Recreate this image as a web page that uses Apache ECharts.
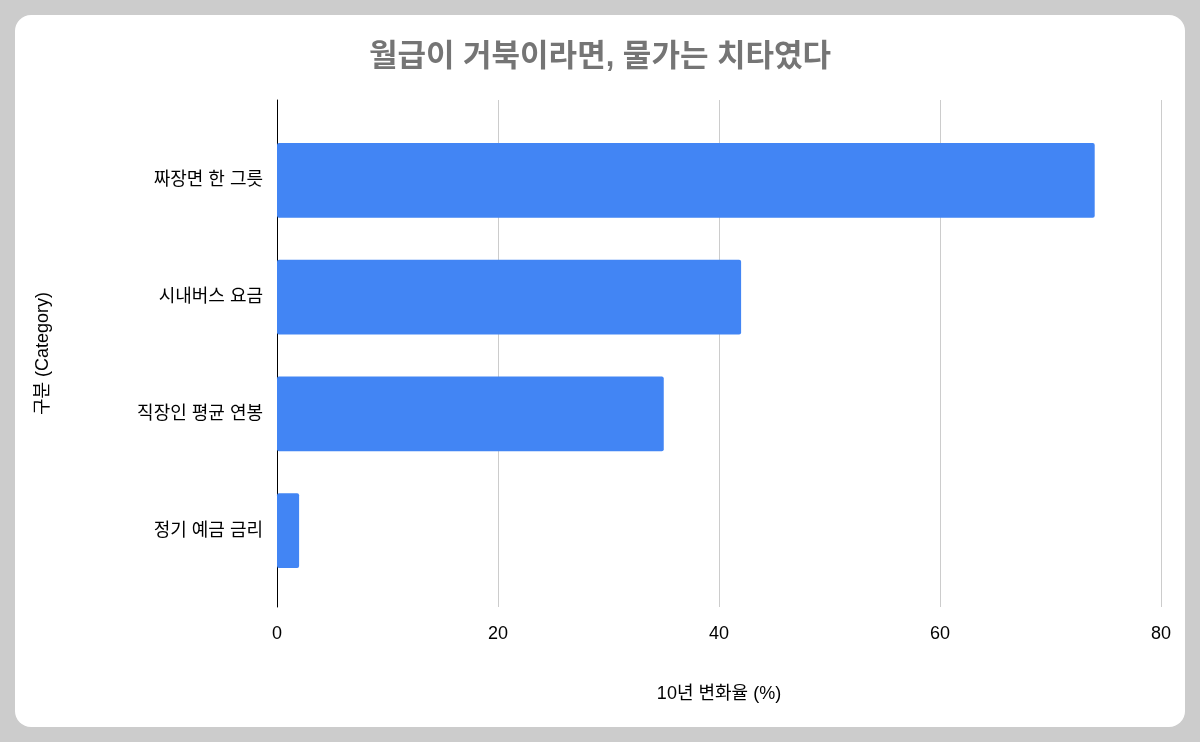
<!DOCTYPE html>
<html><head><meta charset="utf-8">
<script src="https://cdn.jsdelivr.net/npm/echarts@6/dist/echarts.min.js"></script>
<style>html,body{margin:0;padding:0;background:#cccccc;}#c{width:1200px;height:742px;}</style>
</head><body><div id="c"></div>
<script>
const categories = ['짜장면 한 그릇', '시내버스 요금', '직장인 평균 연봉', '정기 예금 금리'];
const values = [74, 42, 35, 2];
const xTicks = [0, 20, 40, 60, 80];
const chart = echarts.init(document.getElementById('c'));
const F = 'Arial, "Liberation Sans", "Noto Sans CJK KR", sans-serif';
chart.setOption({
  animation: false,
  graphic: [{type: 'rect', z: -10, shape: {x: 15, y: 15, width: 1170, height: 712, r: 16}, style: {fill: '#ffffff'}}],
  title: {text: '월급이 거북이라면, 물가는 치타였다', left: 'center', top: 37,
    textStyle: {fontFamily: F, fontSize: 31, fontWeight: 'bold', color: '#757575'}},
  grid: [{left: 277, right: 39, top: 100, bottom: 135}, {left: 277, right: 39, top: 122, bottom: 153}],
  xAxis: [{gridIndex: 0, type: 'value', min: xTicks[0], max: xTicks[xTicks.length - 1], interval: 20,
    name: '10년 변화율 (%)', nameLocation: 'middle', nameGap: 78,
    nameTextStyle: {fontFamily: F, fontSize: 18, color: '#000'},
    axisLabel: {fontFamily: F, fontSize: 18, color: '#000', margin: 18},
    splitLine: {lineStyle: {color: '#cccccc', width: 1}},
    axisLine: {show: false}, axisTick: {show: false}},
  {gridIndex: 1, type: 'value', min: xTicks[0], max: xTicks[xTicks.length - 1], show: false}],
  yAxis: [{gridIndex: 0, type: 'value', min: 0, max: 1, axisLabel: {show: false}, splitLine: {show: false},
    axisTick: {show: false}, axisLine: {show: true, lineStyle: {color: '#000', width: 1}},
    name: '구분 (Category)', nameLocation: 'middle', nameGap: 225, nameRotate: 90,
    nameTextStyle: {fontFamily: F, fontSize: 18, color: '#000'}},
  {gridIndex: 1, type: 'category', data: categories, inverse: true,
    axisLabel: {fontFamily: F, fontSize: 18, color: '#000', margin: 14},
    axisLine: {show: false}, axisTick: {show: false}}],
  series: [{type: 'bar', xAxisIndex: 1, yAxisIndex: 1, data: values, barCategoryGap: '36%',
    itemStyle: {color: '#4285f4', borderRadius: 2}}]
});
</script></body></html>
